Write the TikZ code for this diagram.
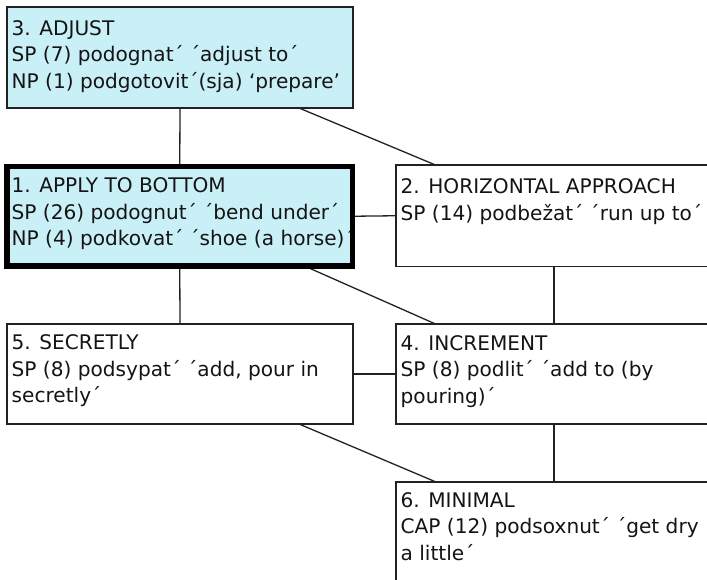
\documentclass[tikz,border=0pt]{standalone}
\usepackage{fontspec}
\setmainfont{DejaVu Sans}
\definecolor{boxfill}{RGB}{202,240,247}
\definecolor{edge}{RGB}{34,34,34}
\newcommand{\firstline}{\rule{0pt}{20pt}}
\begin{document}
\begin{tikzpicture}[x=1pt,y=-1pt,
  leftbox/.style={rectangle, draw=edge, line width=1.4pt, minimum width=346pt,
    minimum height=100pt, anchor=north west, inner sep=0pt, outer sep=0pt},
  rightbox/.style={leftbox, minimum width=316pt},
  hlbox/.style={rectangle, fill=boxfill, minimum width=346pt, minimum height=100pt,
    anchor=north west, inner sep=0pt, outer sep=0pt},
  label/.style={anchor=north west, inner sep=0pt, align=left,
    font=\fontsize{20.1}{26.5}\selectfont, text=black!92},
  link/.style={draw=edge, line width=1.3pt}]
\useasboundingbox (0,0) rectangle (707,580);
\clip (0,0) rectangle (707,580);

% boxes
\node[leftbox, fill=boxfill, minimum height=101pt] (b3) at (7,7) {};
\node[hlbox, minimum width=345.5pt, minimum height=99.5pt] (b1) at (7,166.5) {};
\node[rightbox, minimum height=101.5pt] (b2) at (396,165) {};
\node[leftbox] (b5) at (7,324) {};
\node[rightbox] (b4) at (396,324) {};
\node[rightbox] (b6) at (396,482) {};

% texts
\node[label] (t3) at ([shift={(4.5,8)}]b3.north west)
  {\firstline 3. ADJUST\\SP (7) podognat´ ´adjust to´\\NP (1) podgotovit´(sja) ‘prepare’};
\node[label] (t1) at ([shift={(4.5,6)}]b1.north west)
  {\firstline 1. APPLY TO BOTTOM\\SP (26) podognut´ ´bend under´\\NP (4) podkovat´ ´shoe (a horse)´};
\node[label] (t2) at ([shift={(4.5,8.5)}]b2.north west)
  {\firstline 2. HORIZONTAL APPROACH\\SP (14) podbežat´ ´run up to´};
\node[label] (t5) at ([shift={(4.5,5.5)}]b5.north west)
  {\firstline 5. SECRETLY\\SP (8) podsypat´ ´add, pour in\\secretly´};
\node[label] (t4) at ([shift={(4.5,6)}]b4.north west)
  {\firstline 4. INCREMENT\\SP (8) podlit´ ´add to (by\\pouring)´};
\node[label] (t6) at ([shift={(4.5,5)}]b6.north west)
  {\firstline 6. MINIMAL\\CAP (12) podsoxnut´ ´get dry\\a little´};

% connectors
\draw[link] (b3.south) -- (b1.north);
\draw[link] ([xshift=-54pt]b3.south east) -- ([xshift=39.5pt]b2.north west);
\draw[link] (b1.east) -- (b2.west);
\draw[link] (b1.south) -- (b5.north);
\draw[link] ([xshift=-48pt]b1.south east) -- ([xshift=39.5pt]b4.north west);
\draw[link] (b2.south) -- (b4.north);
\draw[link] (b5.east) -- (b4.west);
\draw[link] ([xshift=-54pt]b5.south east) -- ([xshift=40pt]b6.north west);
\draw[link] (b4.south) -- (b6.north);

% heavy frame of the selected box
\draw[line width=5.5pt, draw=black] (b1.south west) rectangle (b1.north east);
\end{tikzpicture}
\end{document}
